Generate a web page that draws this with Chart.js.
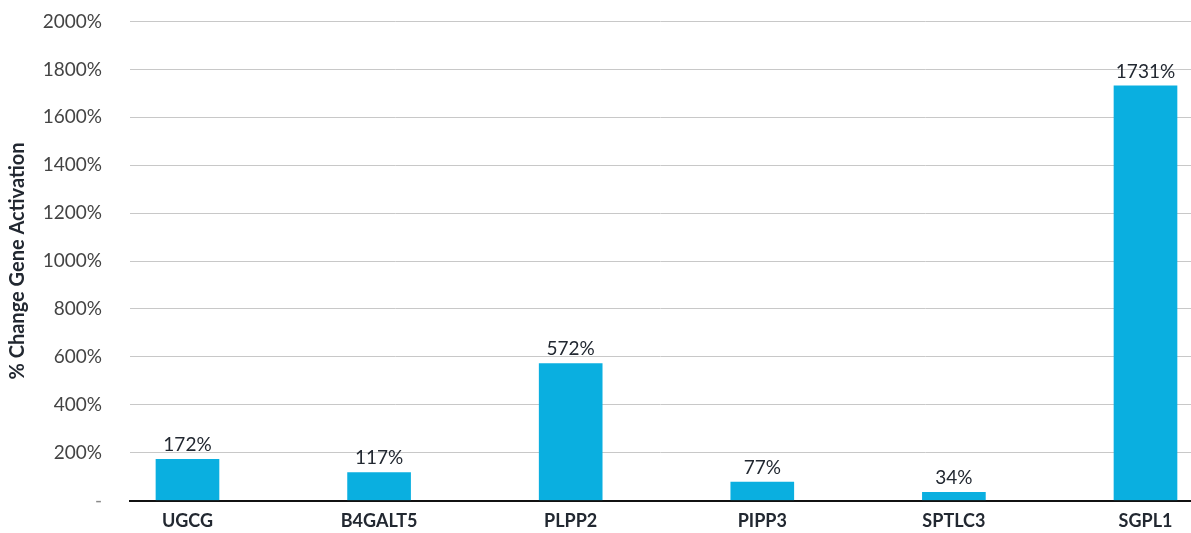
<!DOCTYPE html>
<html>
<head>
<meta charset="utf-8">
<script src="https://cdn.jsdelivr.net/npm/chart.js@4.4.1/dist/chart.umd.min.js"></script>
<style>
  html, body { margin: 0; padding: 0; background: #ffffff; overflow: hidden; }
  #frame { width: 1191px; height: 533px; position: relative; overflow: hidden; }
  #wrap { width: 1191px; height: 554px; position: absolute; left: 0; top: -16.5px; }
</style>
</head>
<body>
<div id="frame"><div id="wrap"><canvas id="chart"></canvas></div></div>
<script>
// Genes and their % change in activation
const genes = ['UGCG', 'B4GALT5', 'PLPP2', 'PIPP3', 'SPTLC3', 'SGPL1'];
const pctChange = [172, 117, 572, 77, 34, 1731];
const yTicks = [0, 200, 400, 600, 800, 1000, 1200, 1400, 1600, 1800, 2000];

const FONT = 'Lato, "Open Sans", sans-serif';
const TEXT = '#222831';
const BAR = '#0aafe0';

// Value labels written just above each bar
const valueLabels = {
  id: 'valueLabels',
  afterDatasetsDraw(chart) {
    const ctx = chart.ctx;
    const meta = chart.getDatasetMeta(0);
    ctx.save();
    ctx.font = '19px ' + FONT;
    ctx.fillStyle = TEXT;
    ctx.textAlign = 'center';
    ctx.textBaseline = 'bottom';
    meta.data.forEach((bar, i) => {
      ctx.fillText(pctChange[i] + '%', bar.x, bar.y - 5);
    });
    ctx.restore();
  }
};

new Chart(document.getElementById('chart'), {
  type: 'bar',
  data: {
    datasets: [{
      data: pctChange.map((v, i) => ({ x: i, y: v })),
      backgroundColor: BAR,
      borderWidth: 0,
      barThickness: 63
    }]
  },
  options: {
    responsive: true,
    maintainAspectRatio: false,
    animation: false,
    layout: { padding: 0 },
    plugins: { legend: { display: false }, tooltip: { enabled: false } },
    scales: {
      x: {
        type: 'linear',
        offset: false,
        min: -0.3,
        max: 5.2375,
        afterFit: (scale) => { scale.height = 28; },
        grid: { display: false, drawTicks: false },
        border: { display: true, color: '#111111', width: 2 },
        ticks: {
          stepSize: 1,
          includeBounds: false,
          autoSkip: false,
          maxRotation: 0,
          padding: 10,
          color: TEXT,
          font: { family: FONT, size: 18, weight: 'bold' },
          callback: (v) => (Number.isInteger(v) && genes[v] !== undefined) ? genes[v] : ''
        }
      },
      y: {
        min: 0,
        max: 2000,
        afterBuildTicks: (scale) => { scale.ticks = yTicks.map(v => ({ value: v })); },
        afterFit: (scale) => { scale.width = 130; },
        grid: { color: '#c8c8c8', lineWidth: 1, drawTicks: false },
        border: { display: false },
        ticks: {
          padding: 28,
          color: (c) => (c.tick && c.tick.value === 0) ? '#8a8a8a' : '#444444',
          font: { family: FONT, size: 19, lineHeight: 1 },
          callback: (v) => v === 0 ? '-' : v + '%'
        },
        title: {
          display: true,
          text: '% Change Gene Activation',
          color: TEXT,
          font: { family: FONT, size: 20, weight: 'bold' },
          padding: { top: 6, bottom: 0 }
        }
      }
    }
  },
  plugins: [valueLabels]
});
</script>
</body>
</html>
